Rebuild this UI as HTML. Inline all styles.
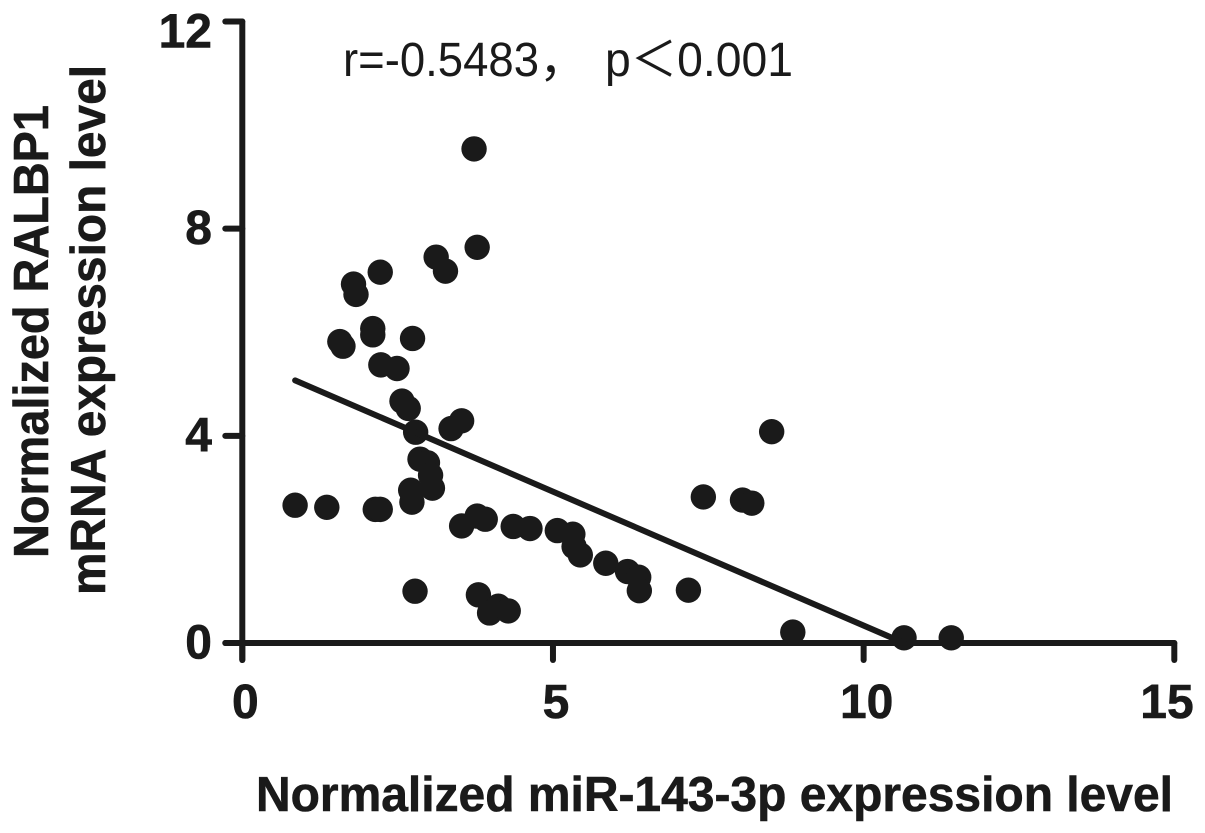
<!DOCTYPE html>
<html>
<head>
<meta charset="utf-8">
<title>Scatter plot</title>
<style>
html,body{margin:0;padding:0;background:#fff;width:1205px;height:833px;overflow:hidden}
svg{display:block}
text{fill:#1a1a1a;font-family:"Liberation Sans","Noto Sans CJK SC",sans-serif}
.tick{font-weight:bold;font-size:48px;stroke:#1a1a1a;stroke-width:0.6px}
.title{font-weight:bold;font-size:49px;stroke:#1a1a1a;stroke-width:0.6px}
.note{font-size:48px}
</style>
</head>
<body>
<svg id="chart" width="1205" height="833" viewBox="0 0 1205 833" xmlns="http://www.w3.org/2000/svg">
<g id="plot"></g>
<g>
<text class="note" x="343" y="76" textLength="196" lengthAdjust="spacingAndGlyphs">r=-0.5483</text>
<text class="note" x="539" y="76">，</text>
<text class="note" x="605" y="76" textLength="188" lengthAdjust="spacingAndGlyphs">p＜0.001</text>
</g>
<text class="title" transform="translate(48,558) rotate(-90)" textLength="453" lengthAdjust="spacingAndGlyphs">Normalized RALBP1</text>
<text class="title" transform="translate(105,595) rotate(-90)" textLength="530" lengthAdjust="spacingAndGlyphs">mRNA expression level</text>
<text class="title" x="256" y="811" textLength="917" lengthAdjust="spacingAndGlyphs">Normalized miR-143-3p expression level</text>
</svg>
<script>
const xTicks = [0, 5, 10, 15];
const yTicks = [0, 4, 8, 12];
const xValues = [3.73,3.78,3.12,3.27,2.22,1.79,1.83,2.10,2.10,1.57,1.62,2.74,2.23,2.49,2.57,2.67,2.79,3.36,3.53,2.86,2.98,3.03,3.06,2.71,2.73,0.85,1.36,2.14,2.22,3.53,3.78,3.91,4.36,4.63,5.07,5.32,5.34,5.44,5.85,6.2,6.38,6.39,7.18,2.78,3.8,4.12,3.98,4.28,7.42,8.05,8.2,8.52,8.86,10.65,11.41];
const yValues = [9.54,7.64,7.45,7.18,7.16,6.93,6.73,6.07,5.95,5.82,5.73,5.88,5.37,5.30,4.67,4.53,4.07,4.14,4.29,3.55,3.48,3.24,2.99,2.95,2.72,2.66,2.62,2.58,2.58,2.26,2.45,2.39,2.25,2.21,2.17,2.10,1.86,1.70,1.54,1.38,1.27,1.01,1.02,1.0,0.93,0.71,0.58,0.62,2.82,2.76,2.70,4.08,0.21,0.10,0.10];
const trendX = [0.85, 10.65];
const trendY = [5.07, 0];

const NS = 'http://www.w3.org/2000/svg';
const plot = document.getElementById('plot');
const INK = '#1a1a1a';
function sx(v){ return 242.3 + v * (1174.3 - 242.3) / 15; }
function sy(v){ return 643 - v * (643 - 21.5) / 12; }
function make(tag, attrs){
  const el = document.createElementNS(NS, tag);
  for (const k in attrs) el.setAttribute(k, attrs[k]);
  plot.appendChild(el);
  return el;
}
function seg(x1, y1, x2, y2, w){
  return make('line', {x1, y1, x2, y2, stroke: INK, 'stroke-width': w, 'stroke-linecap': 'round'});
}

const xAxis = seg(sx(0) - 17, sy(0), sx(15), sy(0), 6);


const yAxis = seg(sx(0), sy(0) + 17, sx(0), sy(12), 6);



xTicks.forEach(function(t){
  const m = seg(sx(t), sy(0), sx(t), sy(0) + 17, 6);
  
  
  const label = make('text', {x: Math.min(sx(t) + 3, 1167), y: 718, 'text-anchor': 'middle', class: 'tick'});
  label.textContent = t;
  
  
});
yTicks.forEach(function(t){
  const m = seg(sx(0) - 17, sy(t), sx(0), sy(t), 6);
  
  
  const label = make('text', {x: 212, y: Math.max(sy(t) + 15.5, 47.5), 'text-anchor': 'end', class: 'tick'});
  label.textContent = t;
  
  
});

xValues.forEach(function(v, i){
  const c = make('circle', {cx: sx(v), cy: sy(yValues[i]), r: 12.7, fill: INK});
  
  
});

const trend = seg(sx(trendX[0]), sy(trendY[0]), sx(trendX[1]), sy(trendY[1]), 6);


</script>
</body>
</html>
